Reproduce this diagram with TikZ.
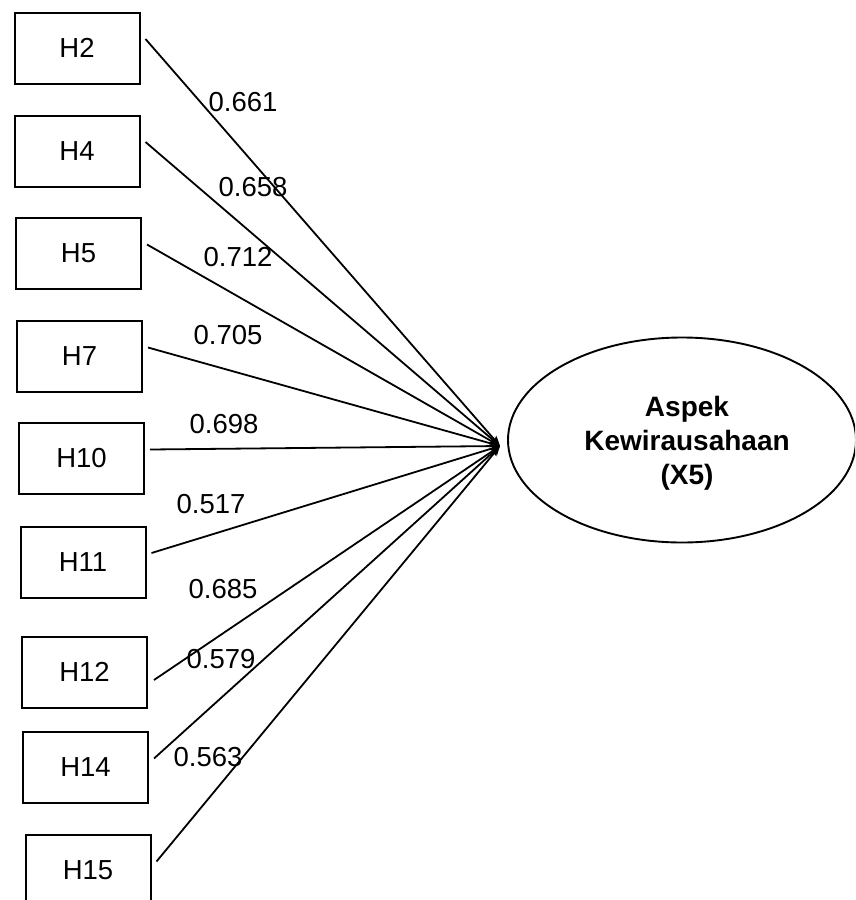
\documentclass[tikz,border=0pt]{standalone}
\usepackage{fontspec}
\setmainfont{Liberation Sans}
\usetikzlibrary{shapes.geometric,arrows.meta}

\begin{document}
\begin{tikzpicture}[x=1pt,y=-1pt,
  indicator/.style={draw, line width=2pt, minimum width=125pt, minimum height=71pt,
    inner sep=0pt, font=\fontsize{27.5}{30}\selectfont},
  construct/.style={draw, ellipse, line width=1.9pt, minimum width=348pt, minimum height=205pt,
    inner sep=0pt},
  constructtext/.style={align=center, inner sep=0pt, font=\bfseries\fontsize{28}{34}\selectfont},
  loading/.style={line width=1.8pt, -{Stealth[length=10pt,width=8pt]}},
  weight/.style={inner sep=0pt, font=\fontsize{27.5}{30}\selectfont}]

\useasboundingbox (0,0) rectangle (855,900);
\clip (0,0) rectangle (855,900);
\fill[white] (0,0) rectangle (855,900);

% indicator boxes
\node[indicator] (H2)  at (77,48)     {H2};
\node[indicator] (H4)  at (77,151)    {H4};
\node[indicator] (H5)  at (78.5,253.5){H5};
\node[indicator] (H7)  at (79.5,356.5){H7};
\node[indicator] (H10) at (81.5,458.5){H10};
\node[indicator] (H11) at (83,562)    {H11};
\node[indicator] (H12) at (84.5,672)  {H12};
\node[indicator] (H14) at (85.5,767.5){H14};
\node[indicator] (H15) at (88,870.5)  {H15};

% latent construct and its name
\node[construct] (X5) at (682,440) {};
\node[constructtext] (X5name) at ([shift={(5,3)}]X5.center) {Aspek\\Kewirausahaan\\(X5)};
\coordinate (hub) at (500,446);

% start points of the loading paths
\foreach \b in {H2,H4,H5,H7,H10,H11,H14,H15}
  \coordinate (s\b) at ([shift={(5,-9)}]\b.east);
\coordinate (sH12) at ([shift={(6,8)}]H12.east);

\foreach \b in {H2,H4,H5,H7,H10,H11,H12,H14,H15}
  \draw[loading] (s\b) -- (hub);

% loading values
\node[weight] (w2)  at (243,102) {0.661};
\node[weight] (w4)  at (253,187) {0.658};
\node[weight] (w5)  at (238,257) {0.712};
\node[weight] (w7)  at (228,335) {0.705};
\node[weight] (w10) at (224,424) {0.698};
\node[weight] (w11) at (211,504) {0.517};
\node[weight] (w12) at (223,589) {0.685};
\node[weight] (w14) at (221,659) {0.579};
\node[weight] (w15) at (208,757) {0.563};
\end{tikzpicture}
\end{document}
